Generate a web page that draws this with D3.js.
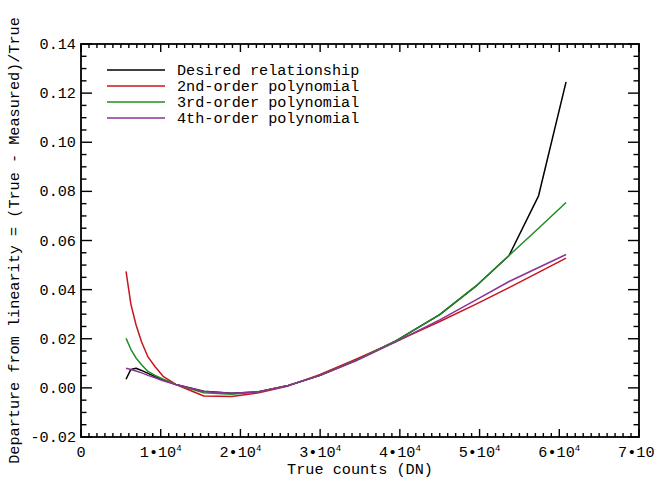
<!DOCTYPE html>
<html>
<head>
<meta charset="utf-8">
<script src="https://cdn.jsdelivr.net/npm/d3@7"></script>
<style>
  html, body { margin: 0; padding: 0; background: #fff; }
  svg text { font-family: "Liberation Mono", "DejaVu Sans Mono", monospace; fill: #000; }
</style>
</head>
<body>
<svg id="chart" width="655" height="481"></svg>
<script>
// Sample positions (true counts, DN) where each curve is evaluated
const trueCounts = [5650, 6250, 6900, 7600, 8400, 9300, 10300, 11900, 15400, 18900,
                    22300, 26000, 30000, 34500, 39500, 45000, 49500, 53700, 57400, 60850];

// Departure from linearity for each curve
const desired = [0.0035, 0.0075, 0.0080, 0.0071, 0.0059, 0.0046, 0.0033, 0.0014, -0.0014, -0.0022,
                 -0.0016, 0.0010, 0.0051, 0.0112, 0.0191, 0.0298, 0.0413, 0.0539, 0.0782, 0.1246];
const poly2 = [0.0474, 0.0342, 0.0257, 0.0187, 0.0126, 0.0086, 0.0047, 0.0014, -0.0033, -0.0035,
               -0.0020, 0.0008, 0.0055, 0.0117, 0.0189, 0.0270, 0.0340, 0.0408, 0.0470, 0.0528];
const poly3 = [0.0202, 0.0157, 0.0122, 0.0094, 0.0067, 0.0051, 0.0035, 0.0014, -0.0020, -0.0026,
               -0.0016, 0.0010, 0.0051, 0.0112, 0.0191, 0.0298, 0.0413, 0.0539, 0.0650, 0.0755];
const poly4 = [0.0080, 0.0075, 0.0069, 0.0061, 0.0051, 0.0041, 0.0029, 0.0014, -0.0015, -0.0022,
               -0.0016, 0.0010, 0.0051, 0.0110, 0.0187, 0.0277, 0.0357, 0.0433, 0.0490, 0.0543];

const seriesNames = ["Desired relationship", "2nd-order polynomial", "3rd-order polynomial", "4th-order polynomial"];
const seriesColors = ["#000000", "#c8141e", "#1f8c26", "#8c3296"];
const seriesValues = [desired, poly2, poly3, poly4];

const xTicks = [0, 10000, 20000, 30000, 40000, 50000, 60000, 70000];
const xTickMant = ["0", "1", "2", "3", "4", "5", "6", "7"];
const yTicks = [-0.02, 0.00, 0.02, 0.04, 0.06, 0.08, 0.10, 0.12, 0.14];

const xTitle = "True counts (DN)";
const yTitle = "Departure from linearity = (True - Measured)/True";

const svg = d3.select("#chart");
const L = 81, R = 639, T = 44, B = 437;

const x = d3.scaleLinear().domain([0, 70000]).range([L, R]);
const y = d3.scaleLinear().domain([-0.02, 0.14]).range([B, T]);

const fontSize = 15.2;
const axisW = 1.8;

// Plot frame
svg.append("rect")
  .attr("x", L).attr("y", T).attr("width", R - L).attr("height", B - T)
  .attr("fill", "none").attr("stroke", "#000").attr("stroke-width", axisW);

// Ticks on all four sides
const xMinor = d3.range(0, 70001, 1000);
const yMinor = d3.range(-0.02, 0.14001, 0.005);
const g = svg.append("g").attr("stroke", "#000").attr("stroke-width", 1.4);
xMinor.forEach(v => {
  const major = Math.abs(v % 10000) < 1e-6;
  const len = major ? 8 : 4;
  g.append("line").attr("x1", x(v)).attr("x2", x(v)).attr("y1", B).attr("y2", B - len);
  g.append("line").attr("x1", x(v)).attr("x2", x(v)).attr("y1", T).attr("y2", T + len);
});
yMinor.forEach(v => {
  const k = Math.round((v + 0.02) / 0.005);
  const major = k % 4 === 0;
  const len = major ? 11 : 5.5;
  g.append("line").attr("y1", y(v)).attr("y2", y(v)).attr("x1", L).attr("x2", L + len);
  g.append("line").attr("y1", y(v)).attr("y2", y(v)).attr("x1", R).attr("x2", R - len);
});

// Y tick labels
svg.append("g").selectAll("text").data(yTicks).join("text")
  .attr("x", L - 5).attr("y", d => y(d) + 5)
  .attr("text-anchor", "end").attr("font-size", fontSize)
  .text(d => d3.format(".2f")(d).replace("\u2212", "-"));

// X tick labels with exponent notation
const xl = svg.append("g");
xTicks.forEach((v, i) => {
  const t = xl.append("text")
    .attr("x", x(v)).attr("y", 457)
    .attr("text-anchor", "middle").attr("font-size", fontSize);
  if (v === 0) {
    t.text(xTickMant[i]);
  } else {
    t.append("tspan").text(xTickMant[i] + "\u2022" + "10");
    t.append("tspan").attr("dy", -6).attr("font-size", 9).text("4");
  }
});

// Axis titles
svg.append("text").attr("x", (L + R) / 2).attr("y", 474)
  .attr("text-anchor", "middle").attr("font-size", fontSize).text(xTitle);
svg.append("text")
  .attr("transform", `translate(19,${(T + B) / 2}) rotate(-90)`)
  .attr("text-anchor", "middle").attr("font-size", fontSize).text(yTitle);

// Curves
const line = d3.line().x(d => x(d[0])).y(d => y(d[1]));
seriesValues.forEach((vals, i) => {
  svg.append("path")
    .datum(trueCounts.map((c, j) => [c, vals[j]]))
    .attr("d", line)
    .attr("fill", "none")
    .attr("stroke", seriesColors[i])
    .attr("stroke-width", 1.5)
    .attr("stroke-linejoin", "round");
});

// Legend
const leg = svg.append("g");
seriesNames.forEach((name, i) => {
  const ly = 70 + i * 16;
  leg.append("line").attr("x1", 107).attr("x2", 165).attr("y1", ly).attr("y2", ly)
    .attr("stroke", seriesColors[i]).attr("stroke-width", 1.5);
  leg.append("text").attr("x", 177).attr("y", ly + 5)
    .attr("font-size", fontSize).text(name);
});
</script>
</body>
</html>
